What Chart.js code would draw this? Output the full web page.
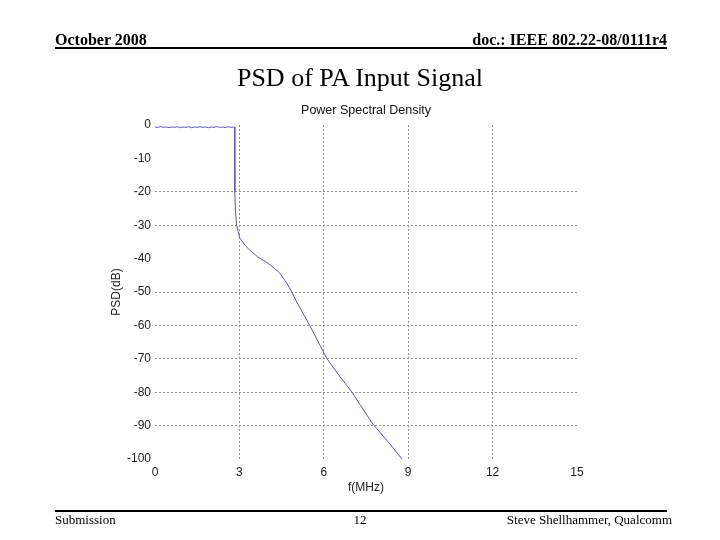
<!DOCTYPE html>
<html>
<head>
<meta charset="utf-8">
<script src="https://cdn.jsdelivr.net/npm/chart.js@4"></script>
<style>
  body { margin: 0; background: #fff; }
  #slide { position: relative; width: 720px; height: 540px; overflow: hidden; font-family: "Liberation Serif", "Times New Roman", serif; }
  #psd { position: absolute; left: 0; top: 0; }
  .txt { position: absolute; white-space: nowrap; color: #000; }
  .rule { position: absolute; left: 55px; width: 612px; height: 2px; background: #000; }
</style>
</head>
<body>
<div id="slide">
  <canvas id="psd" width="720" height="540"></canvas>
  <div class="txt" style="left:55px; top:31px; font-size:16px; font-weight:bold;">October 2008</div>
  <div class="txt" style="right:53px; top:31px; font-size:16px; font-weight:bold;">doc.: IEEE 802.22-08/0111r4</div>
  <div class="rule" style="top:47px;"></div>
  <div class="txt" style="left:0; width:720px; text-align:center; top:63px; font-size:26px;">PSD of PA Input Signal</div>
  <div class="rule" style="top:510px;"></div>
  <div class="txt" style="left:55px; top:512px; font-size:13px;">Submission</div>
  <div class="txt" style="left:0; width:720px; text-align:center; top:512px; font-size:13px;">12</div>
  <div class="txt" style="right:48px; top:512px; font-size:13px;">Steve Shellhammer, Qualcomm</div>
</div>
<script>
const ctx = document.getElementById('psd');

// frequency (MHz) and PSD (dB)
const freqMHz = [
    0, 0.1, 0.2, 0.3, 0.4, 0.5, 0.6, 0.7, 0.8, 0.9, 1.0, 1.1, 1.2, 1.3, 1.4,
    1.5, 1.6, 1.7, 1.8, 1.9, 2.0, 2.1, 2.2, 2.3, 2.4, 2.5, 2.6, 2.7, 2.8, 2.83,
    2.835, 2.84, 2.86, 2.9, 2.96, 3.01, 3.2, 3.36, 3.65, 4.0, 4.2, 4.43, 4.68,
    4.86, 5.04, 5.5, 6.1, 6.5, 7.0, 7.74, 8.3, 8.78
];
const psdDb = [
    -0.6, -0.7, -0.5, -0.7, -0.6, -0.8, -0.6, -0.7, -0.5, -0.8, -0.6, -0.7, -0.5, -0.8, -0.6,
    -0.7, -0.5, -0.7, -0.6, -0.8, -0.6, -0.7, -0.5, -0.7, -0.6, -0.8, -0.5, -0.7, -0.6, -0.6,
    -10, -20, -26, -30, -32, -33.8, -36, -37.4, -39.5, -41.3, -42.6, -44.3, -47.3,
    -50, -53, -60, -69.8, -74.5, -80, -89.5, -95, -100
];
const xTicks = [0, 3, 6, 9, 12, 15];
const yTicks = [0, -10, -20, -30, -40, -50, -60, -70, -80, -90, -100];
const xGridAt = [3, 6, 9, 12];
const yGridAt = [-20, -30, -50, -60, -70, -80, -90];

const points = freqMHz.map((f, i) => ({ x: f, y: psdDb[i] }));
const sansFont = 'Liberation Sans, Arial, sans-serif';
const tickFont = { family: sansFont, size: 12 };

new Chart(ctx, {
    type: 'line',
    data: {
        datasets: [{
            data: points,
            borderColor: '#5b5ba6',
            borderWidth: 1,
            pointRadius: 0,
            tension: 0,
            clip: false
        }]
    },
    options: {
        responsive: false,
        animation: false,
        layout: { padding: { left: 109, right: 143, top: 125, bottom: 41 } },
        plugins: {
            legend: { display: false },
            tooltip: { enabled: false },
            title: { display: false }
        },
        scales: {
            x: {
                type: 'linear',
                min: 0,
                max: 15,
                afterBuildTicks: (s) => { s.ticks = xTicks.map(v => ({ value: v })); },
                afterFit: (s) => { s.height = 40; },
                ticks: { color: '#222', font: tickFont, padding: 6 },
                border: { display: false, dash: [2, 2] },
                grid: {
                    drawTicks: false,
                    color: (c) => xGridAt.includes(c.tick && c.tick.value) ? '#909090' : 'rgba(0,0,0,0)',
                    lineWidth: 1
                },
                title: {
                    display: true,
                    text: 'f(MHz)',
                    color: '#222',
                    font: tickFont,
                    padding: { top: 0 }
                }
            },
            y: {
                min: -100,
                max: 0,
                afterBuildTicks: (s) => { s.ticks = yTicks.map(v => ({ value: v })); },
                afterFit: (s) => { s.width = 46; },
                ticks: { color: '#222', font: tickFont, padding: 4 },
                border: { display: false, dash: [2, 2] },
                grid: {
                    drawTicks: false,
                    color: (c) => yGridAt.includes(c.tick && c.tick.value) ? '#909090' : 'rgba(0,0,0,0)',
                    lineWidth: 1
                },
                title: {
                    display: true,
                    text: 'PSD(dB)',
                    color: '#222',
                    font: tickFont,
                    padding: 0
                }
            }
        }
    },
    plugins: [{
        // plot title centred over the axes box, as in the figure
        id: 'plotTitle',
        afterDraw: (chart) => {
            const { ctx: c, chartArea: a } = chart;
            c.save();
            c.font = '12.5px ' + sansFont;
            c.fillStyle = '#111';
            c.textAlign = 'center';
            c.textBaseline = 'middle';
            c.fillText('Power Spectral Density', (a.left + a.right) / 2, a.top - 14);
            c.restore();
        }
    }]
});
</script>
</body>
</html>
